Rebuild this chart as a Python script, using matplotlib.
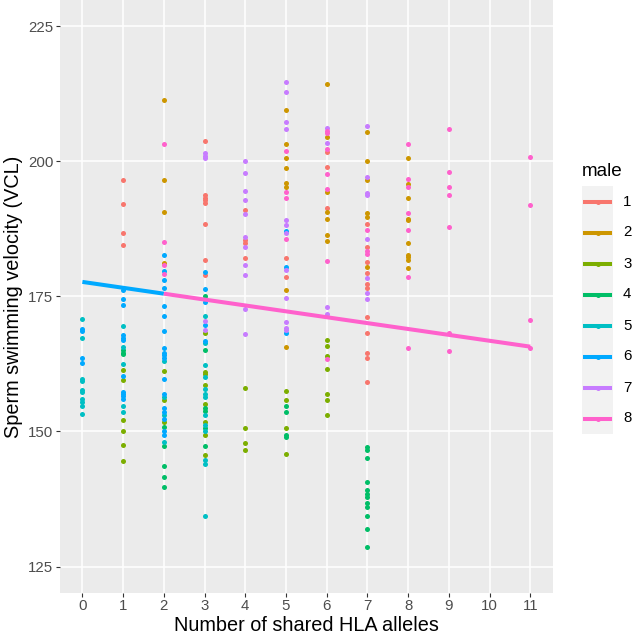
#!/usr/bin/env python3
"""
Sperm swimming velocity vs number of shared HLA alleles, ggplot-like look
"""

import matplotlib
matplotlib.use('Agg')
import matplotlib.pyplot as plt
from matplotlib.patches import Rectangle
from matplotlib.lines import Line2D
import numpy as np

plt.rcParams['font.family'] = ['Liberation Sans', 'DejaVu Sans']

# male ids and ggplot hue colours
males = ['1', '2', '3', '4', '5', '6', '7', '8']
colors = ['#F8766D', '#CD9600', '#7CAE00', '#00BE67',
          '#00BFC4', '#00A9FF', '#C77CFF', '#FF61CC']

# (shared alleles, VCL) per male
male1 = {1: [196.6, 192.2, 186.7, 184.6],
         3: [203.7, 193.7, 193.2, 192.8, 192.3, 188.5, 181.7, 178.9],
         4: [191.1, 185.4, 184.9, 182.2],
         5: [182.2, 178.7],
         6: [201.8, 199.0, 191.4],
         7: [188.4, 184.1, 181.3, 179.3, 177.4, 176.6, 171.2, 168.2, 164.6, 163.6, 159.1]}
male2 = {2: [211.3, 196.5, 190.7, 181.2],
         5: [209.5, 203.3, 200.6, 198.8, 196.1, 195.3, 176.2, 165.6],
         6: [214.4, 204.5, 194.3, 190.6, 189.4, 186.3, 185.3],
         7: [205.5, 200.1, 196.6, 190.5, 189.8, 180.5],
         8: [200.6, 195.9, 193.3, 189.4, 189.1, 184.9, 182.7, 182.3, 181.8, 180.2]}
male3 = {1: [161.4, 159.5, 152.1, 150.0, 147.5, 144.5],
         2: [161.2, 155.8, 151.8],
         3: [168.3, 161.0, 160.6, 158.6, 155.1, 151.8, 149.3, 145.7],
         4: [158.1, 150.7, 147.8, 146.5],
         5: [157.5, 155.9, 150.7, 145.8],
         6: [166.9, 165.9, 164.0, 161.5, 157.0, 155.9, 153.0]}
male4 = {1: [165.0, 164.6, 164.3],
         2: [150.8, 147.3, 143.7, 141.6, 139.8],
         3: [175.0, 165.1, 154.4, 153.8, 150.6, 147.3],
         5: [154.7, 153.6, 149.3, 149.0],
         7: [147.1, 146.6, 145.0, 140.6, 139.1, 138.5, 137.9, 136.8, 136.1, 134.4, 131.9, 128.6]}
male5 = {0: [170.8, 167.3, 159.8, 159.3, 157.7, 157.3, 156.0, 155.4, 154.7, 153.3],
         1: [169.5, 165.7, 162.5, 154.7, 153.6],
         2: [163.0, 156.4, 153.0, 148.1],
         3: [171.4, 166.3, 162.3, 160.0, 157.8, 157.0, 156.4, 153.0, 151.2, 150.0, 144.7, 143.9, 134.3]}
male6 = {0: [169.0, 168.7, 163.6, 162.7],
         1: [176.2, 174.5, 173.4, 167.8, 167.4, 167.0, 160.2, 157.3, 156.9, 156.5, 156.0],
         2: [182.6, 179.8, 178.0, 176.6, 173.3, 171.3, 168.7, 165.5, 164.6, 164.1, 163.6,
             159.8, 157.0, 154.3, 153.6, 152.4, 150.0, 149.3],
         3: [179.5, 176.3, 174.0, 169.7, 166.7],
         5: [187.2, 180.5, 168.2]}
male7 = {3: [201.6, 201.1, 200.6, 170.5, 168.8],
         4: [200.0, 197.9, 194.5, 192.8, 190.2, 186.1, 184.1, 180.8, 178.9, 172.6, 168.0],
         5: [214.8, 212.9, 207.4, 206.0, 189.1, 188.2, 186.8, 179.9, 174.8, 170.3, 169.2, 168.8],
         6: [206.2, 203.4, 173.1, 171.8],
         7: [206.5, 197.2, 194.1, 193.8, 185.7, 178.5, 175.6, 174.5]}
male8 = {2: [203.3, 185.1, 180.8, 179.1],
         5: [201.9, 194.3, 193.3, 185.7],
         6: [205.7, 205.3, 202.4, 197.7, 194.9, 181.6, 163.5],
         7: [187.3, 183.4, 182.9],
         8: [203.3, 196.8, 195.3, 190.4, 187.4, 178.7, 165.5],
         9: [206.0, 198.0, 195.3, 193.8, 187.8, 168.3, 164.9],
         11: [200.9, 192.0, 170.6, 165.4]}
male_data = [male1, male2, male3, male4, male5, male6, male7, male8]

# fitted line: intercept / slope, coloured blue then pink
fit_intercept = 177.7
fit_slope = -1.09
fit_breaks = [0, 2, 11]
fit_colors = ['#00A9FF', '#FF61CC']

x_ticks = list(range(0, 12))
y_ticks = [125, 150, 175, 200, 225]

fig = plt.figure(figsize=(6.32, 6.37), dpi=100)
W, H = 632, 637
ax = fig.add_axes([60 / W, (H - 592.7) / H, 492.7 / W, 592.7 / H])
ax.set_facecolor('#EBEBEB')
for s in ax.spines.values():
    s.set_visible(False)

for i, d in enumerate(male_data):
    xs, ys = [], []
    for k, vals in d.items():
        xs += [k] * len(vals)
        ys += vals
    ax.scatter(xs, ys, s=13, color=colors[i], linewidths=0, zorder=3)

# regression line segments
for j in range(len(fit_breaks) - 1):
    xx = np.array([fit_breaks[j], fit_breaks[j + 1]])
    ax.plot(xx, fit_intercept + fit_slope * xx, color=fit_colors[j],
            linewidth=2.9, solid_capstyle='butt', zorder=4)

ax.set_xlim(-0.55, 11.55)
ax.set_ylim(120.15, 229.9)
ax.set_xticks(x_ticks)
ax.set_yticks(y_ticks)
ax.grid(True, color='white', linewidth=1.1, zorder=0)
ax.set_axisbelow(True)
ax.tick_params(length=2.7, width=0.8, color='#333333', labelcolor='#4D4D4D',
               labelsize=10.8, pad=2)
ax.set_xlabel('Number of shared HLA alleles', fontsize=14.3, labelpad=2)
ax.set_ylabel('Sperm swimming velocity (VCL)', fontsize=14.3, labelpad=4)

# legend drawn by hand (grey key boxes like ggplot)
lax = fig.add_axes([0, 0, 1, 1], facecolor='none')
lax.set_xlim(0, W)
lax.set_ylim(H, 0)
lax.axis('off')
lax.text(582, 171.5, 'male', fontsize=13.6, va='center', ha='left')
key_top = 186
key_h = 31
for i, m in enumerate(males):
    y0 = key_top + i * key_h
    lax.add_patch(Rectangle((582, y0), 31, key_h, facecolor='#F2F2F2', edgecolor='none'))
    yc = y0 + key_h / 2
    lax.add_line(Line2D([585, 610], [yc, yc], color=colors[i], linewidth=2.9))
    lax.plot([597.5], [yc], 'o', color=colors[i], markersize=3.6, markeredgewidth=0)
    lax.text(623, yc, m, fontsize=10.8, va='center', ha='left')

plt.savefig('out.png', dpi=100)
plt.close()
